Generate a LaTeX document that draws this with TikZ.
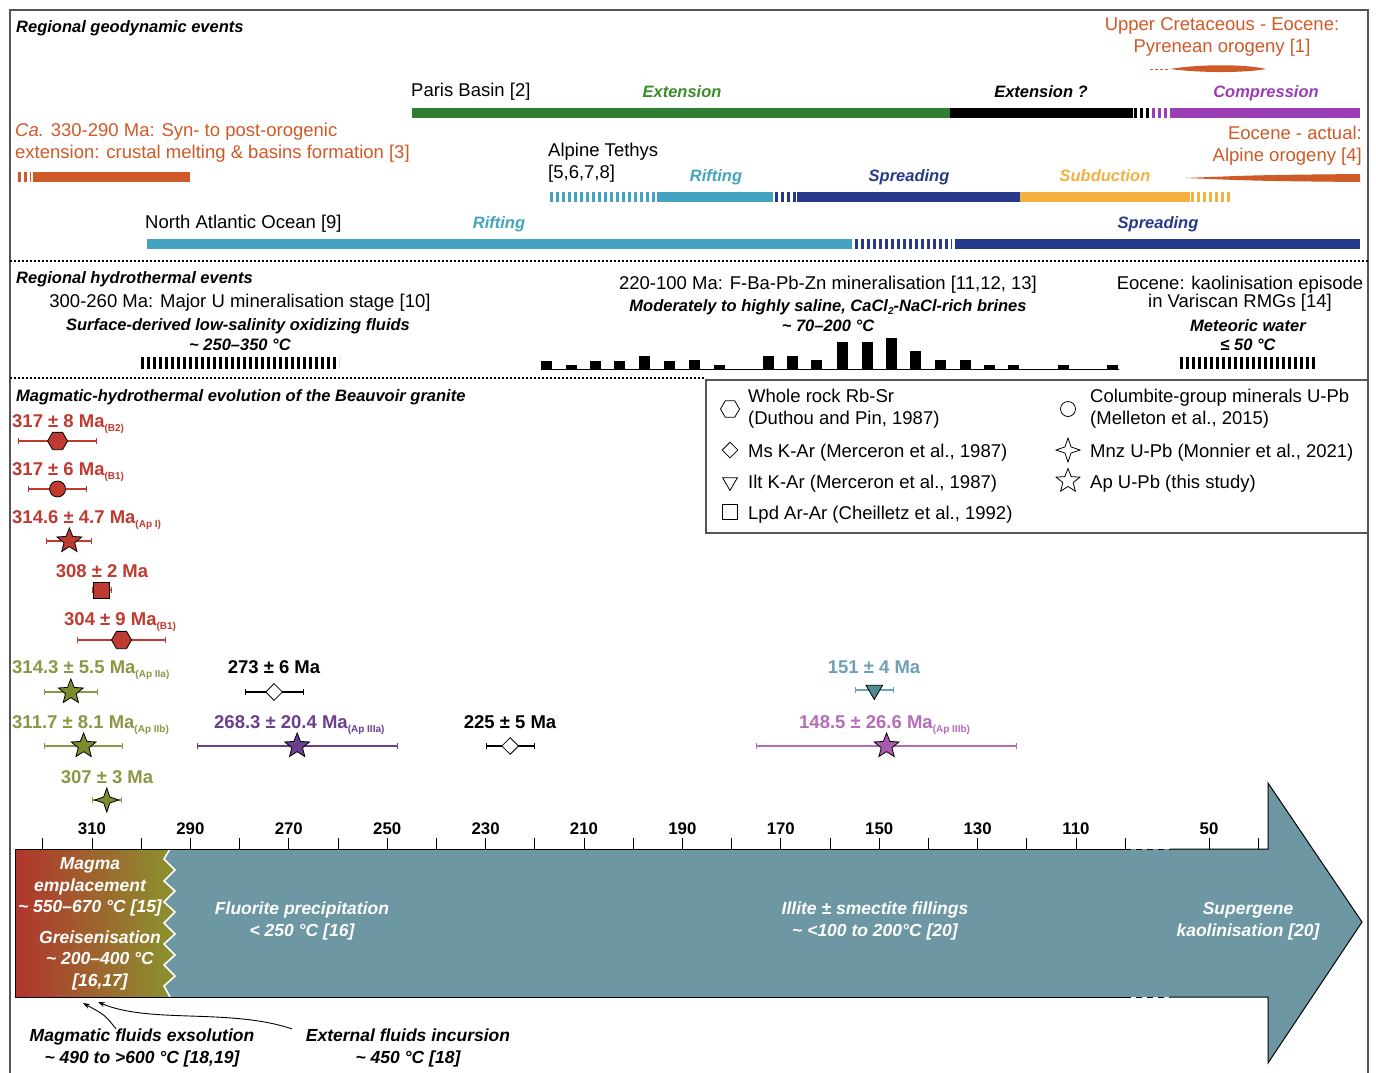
\documentclass[tikz,border=0pt]{standalone}
\usepackage{fontspec}
\setmainfont{Liberation Sans}
\usetikzlibrary{shapes.geometric,arrows.meta}

\definecolor{frameC}{HTML}{555555}
\definecolor{orangeC}{HTML}{CF5A27}
\definecolor{greenB}{HTML}{2E7D32}
\definecolor{greenT}{HTML}{3D8C2C}
\definecolor{purpleC}{HTML}{9B3DB4}
\definecolor{tealC}{HTML}{44A3C0}
\definecolor{navyC}{HTML}{273A8A}
\definecolor{yellowC}{HTML}{F5B041}
\definecolor{redD}{HTML}{BF3A30}
\definecolor{oliveT}{HTML}{8E9646}
\definecolor{oliveM}{HTML}{7B8B2D}
\definecolor{purpD}{HTML}{6A3F8E}
\definecolor{pinkD}{HTML}{B76BBB}
\definecolor{pinkM}{HTML}{A85AAE}
\definecolor{steelT}{HTML}{6E9FB5}
\definecolor{steelM}{HTML}{4F8B93}
\definecolor{arrowC}{HTML}{6D97A3}
\definecolor{gradL}{HTML}{B2352E}
\definecolor{gradR}{HTML}{8A932E}

\newcommand{\apx}{\textasciitilde}
\newcommand{\subtag}[1]{\raisebox{-4pt}{\fontsize{10}{10}\selectfont #1}}

\tikzset{
  declare function={ax(\a)=92+(310-\a)*4.92;},
  txt/.style={font=\fontsize{18.5}{22}\selectfont, inner sep=0pt},
  lab/.style={font=\fontsize{16.5}{20}\selectfont\bfseries\itshape, inner sep=0pt},
  agelab/.style={font=\fontsize{18.5}{22}\selectfont\bfseries, inner sep=0pt},
  wlab/.style={font=\fontsize{17.5}{21.5}\selectfont\bfseries\itshape, inner sep=0pt, align=center},
  axlab/.style={font=\fontsize{16.8}{20}\selectfont\bfseries, inner sep=0pt, anchor=base},
  band/.style={line width=10pt},
  bandd/.style={line width=10pt, dash pattern=on 3pt off 3pt},
  hatchbar/.style={line width=12pt, dash pattern=on 3pt off 3pt},
  errbar/.style={line width=1.1pt, {Bar[width=6pt,line width=1pt]}-{Bar[width=6pt,line width=1pt]}},
  mk/.style={draw=black, line width=0.8pt, inner sep=0pt},
  mhex/.style={mk, regular polygon, regular polygon sides=6, minimum size=20pt},
  mcirc/.style={mk, circle, minimum size=16pt},
  mdiam/.style={mk, diamond, minimum size=17pt},
  mtri/.style={mk, regular polygon, regular polygon sides=3, shape border rotate=180, minimum size=19pt},
  msq/.style={mk, rectangle, minimum size=16pt},
  mstar/.style={mk, star, star points=5, star point ratio=2.3, minimum size=26pt},
  mstarf/.style={mk, star, star points=4, star point ratio=2.8, minimum size=24pt},
  fluidarr/.style={line width=0.9pt, -{Stealth[length=7pt,width=5pt]}},
}

\begin{document}
\begin{tikzpicture}[x=1pt, y=-1pt]
  \useasboundingbox (0,0) rectangle (1376,1072);
  \fill[white] (0,0) rectangle (1376,1072);
  \draw[frameC, line width=1.5pt] (10,1074) -- (10,10) -- (1368,10) -- (1368,1074);

  % regional geodynamic events
  \node[lab, anchor=base west] (geoT) at (16,32) {Regional geodynamic events};

  \node[txt, orangeC, align=center] (pyrT) at (1222,37) {Upper Cretaceous - Eocene:\\Pyrenean orogeny [1]};
  \draw[orangeC, line width=1pt, dash pattern=on 3pt off 2pt] (1150,69) -- (1170,69);
  \fill[orangeC] (1170,69) .. controls (1200,64) and (1245,64) .. (1266,69) .. controls (1245,73) and (1200,73) .. (1170,69) -- cycle;

  \node[txt, anchor=base west] (parT) at (411,96.5) {Paris Basin [2]};
  \node[lab, greenT, anchor=base] (parE) at (682,97) {Extension};
  \node[lab, anchor=base] (parX) at (1041,97) {Extension ?};
  \node[lab, purpleC, anchor=base] (parC) at (1266,97) {Compression};
  \draw[band, greenB] (412,113) -- (950,113);
  \draw[band, black] (950,113) -- (1133,113);
  \draw[bandd, black] (1134,113) -- (1151,113);
  \draw[bandd, purpleC] (1152,113) -- (1169,113);
  \draw[band, purpleC] (1170,113) -- (1360,113);

  \node[txt, orangeC, align=left, anchor=west] (varT) at (15,143) {\textit{Ca.} 330-290 Ma: Syn- to post-orogenic\\extension: crustal melting \& basins formation [3]};
  \draw[bandd, orangeC] (18,177) -- (31,177);
  \draw[band, orangeC] (33,177) -- (190,177);

  \node[txt, align=left, anchor=west] (tetT) at (548,163) {Alpine Tethys\\{[5,6,7,8]}};
  \node[lab, tealC, anchor=base] (tetR) at (716,181) {Rifting};
  \node[lab, navyC, anchor=base] (tetS) at (909,181) {Spreading};
  \node[lab, yellowC, anchor=base] (tetU) at (1105,181) {Subduction};
  \draw[bandd, tealC] (550,197) -- (655,197);
  \draw[band, tealC] (657,197) -- (773,197);
  \draw[bandd, navyC] (775,197) -- (796,197);
  \draw[band, navyC] (797,197) -- (1020,197);
  \draw[band, yellowC] (1020,197) -- (1190,197);
  \draw[bandd, yellowC] (1191,197) -- (1230,197);

  \node[txt, orangeC, align=right, anchor=east] (alpT) at (1362,146) {Eocene - actual:\\Alpine orogeny [4]};
  \fill[orangeC] (1185,178) .. controls (1260,175) .. (1360,174) -- (1360,182) .. controls (1260,181) .. (1185,178) -- cycle;

  \node[txt, anchor=base west] (natT) at (145,228.5) {North Atlantic Ocean [9]};
  \node[lab, tealC, anchor=base] (natR) at (499,228) {Rifting};
  \node[lab, navyC, anchor=base] (natS) at (1158,228) {Spreading};
  \draw[band, tealC] (147,244) -- (852,244);
  \draw[bandd, navyC] (855,244) -- (952,244);
  \draw[band, navyC] (955,244) -- (1360,244);

  \draw[line width=1.2pt, dash pattern=on 2pt off 2pt] (10,261) -- (1368,261);

  % regional hydrothermal events
  \node[lab, anchor=base west] (hydT) at (16,283) {Regional hydrothermal events};

  \node[txt, anchor=base] (uT) at (240,307.5) {300-260 Ma: Major U mineralisation stage [10]};
  \node[lab, anchor=base] (uF) at (238,330) {Surface-derived low-salinity oxidizing fluids};
  \node[lab, anchor=base] (uC) at (240,350) {\apx{} 250–350 °C};
  \draw[hatchbar] (141,363) -- (339,363);

  \node[txt, anchor=base] (fT) at (828,289.5) {220-100 Ma: F-Ba-Pb-Zn mineralisation [11,12, 13]};
  \node[lab, anchor=base] (fF) at (828,311) {Moderately to highly saline, CaCl\raisebox{-3pt}{\fontsize{10}{10}\selectfont 2}-NaCl-rich brines};
  \node[lab, anchor=base] (fC) at (828,331) {\apx{} 70–200 °C};
  \draw[line width=1pt] (541,369) -- (1119,369);
  \foreach \x/\h in {541/8, 566/4, 590/8, 614/8, 639/13, 664/8, 689/9, 714/4, 763/13, 787/13, 811/9,
                     837/27, 862/27, 886/31, 910/18, 935/9, 960/9, 984/4, 1008/4, 1058/4, 1107/4}
    \fill (\x,369) rectangle ++(11,-\h);

  \node[txt, anchor=base] (kT1) at (1240,289.5) {Eocene: kaolinisation episode};
  \node[txt, anchor=base] (kT2) at (1240,307.5) {in Variscan RMGs [14]};
  \node[lab, anchor=base] (kF) at (1248,331) {Meteoric water};
  \node[lab, anchor=base] (kC) at (1248,350) {≤ 50 °C};
  \draw[hatchbar] (1180,363) -- (1317,363);

  \draw[line width=1.2pt, dash pattern=on 2pt off 2pt] (10,378) -- (706,378);

  % legend
  \draw[frameC, line width=1.3pt] (706,380) rectangle (1368,533);
  \node[mhex, minimum size=19pt] (l1) at (730,409) {};
  \node[mdiam, minimum size=16pt] (l2) at (730,450) {};
  \node[mtri, minimum size=17pt] (l3) at (730,482) {};
  \node[msq, minimum size=15pt] (l4) at (730,512) {};
  \node[mcirc, minimum size=15pt] (l5) at (1068,409) {};
  \node[mstarf, minimum size=24pt] (l6) at (1068,450) {};
  \node[mstar, minimum size=25pt] (l7) at (1068,481) {};
  \node[txt, align=left, anchor=west] (l1t) at (748,409) {Whole rock Rb-Sr\\(Duthou and Pin, 1987)};
  \node[txt, anchor=base west] (l2t) at (748,457.5) {Ms K-Ar (Merceron et al., 1987)};
  \node[txt, anchor=base west] (l3t) at (748,488) {Ilt K-Ar (Merceron et al., 1987)};
  \node[txt, anchor=base west] (l4t) at (748,519) {Lpd Ar-Ar (Cheilletz et al., 1992)};
  \node[txt, align=left, anchor=west] (l5t) at (1090,409) {Columbite-group minerals U-Pb\\(Melleton et al., 2015)};
  \node[txt, anchor=base west] (l6t) at (1090,457.5) {Mnz U-Pb (Monnier et al., 2021)};
  \node[txt, anchor=base west] (l7t) at (1090,488) {Ap U-Pb (this study)};

  % magmatic-hydrothermal evolution
  \node[lab, anchor=base west] (bvT) at (16,401) {Magmatic-hydrothermal evolution of the Beauvoir granite};

  \foreach \age/\err/\y/\shp/\bc/\fc [count=\i] in {
      317/8/441/mhex/redD/redD, 317/6/489/mcirc/redD/redD, 314.6/4.7/541/mstar/redD/redD,
      308/2/590/msq/redD/redD, 304/9/640/mhex/redD/redD,
      314.3/5.5/692/mstar/oliveT/oliveM, 273/6/692/mdiam/black/white,
      311.7/8.1/746/mstar/oliveT/oliveM, 268.3/20.4/746/mstar/purpD/purpD,
      225/5/746/mdiam/black/white, 307/3/800/mstarf/oliveT/oliveM,
      151/4/690/mtri/steelT/steelM, 148.5/26.6/746/mstar/pinkD/pinkM} {
    \draw[errbar, \bc] ({ax(\age+\err)},\y) -- ({ax(\age-\err)},\y);
    \node[\shp, fill=\fc] (m\i) at ({ax(\age)},\y) {};
  }

  \node[agelab, redD, anchor=base west] (a1) at (12,427.5) {317 ± 8 Ma\subtag{(B2)}};
  \node[agelab, redD, anchor=base west] (a2) at (12,475.5) {317 ± 6 Ma\subtag{(B1)}};
  \node[agelab, redD, anchor=base west] (a3) at (12,523.5) {314.6 ± 4.7 Ma\subtag{(Ap I)}};
  \node[agelab, redD, anchor=base] (a4) at (102,577.5) {308 ± 2 Ma};
  \node[agelab, redD, anchor=base west] (a5) at (64,625.5) {304 ± 9 Ma\subtag{(B1)}};
  \node[agelab, oliveT, anchor=base west] (a6) at (12,673.5) {314.3 ± 5.5 Ma\subtag{(Ap IIa)}};
  \node[agelab, anchor=base] (a7) at (274,673.5) {273 ± 6 Ma};
  \node[agelab, oliveT, anchor=base west] (a8) at (12,728.5) {311.7 ± 8.1 Ma\subtag{(Ap IIb)}};
  \node[agelab, purpD, anchor=base west] (a9) at (214,728.5) {268.3 ± 20.4 Ma\subtag{(Ap IIIa)}};
  \node[agelab, anchor=base] (a10) at (510,728.5) {225 ± 5 Ma};
  \node[agelab, oliveT, anchor=base] (a11) at (107,783.5) {307 ± 3 Ma};
  \node[agelab, steelT, anchor=base] (a12) at (874,673.5) {151 ± 4 Ma};
  \node[agelab, pinkD, anchor=base west] (a13) at (799,728.5) {148.5 ± 26.6 Ma\subtag{(Ap IIIb)}};

  % time arrow
  \fill[arrowC] (15,849) -- (1268,849) -- (1268,783) -- (1362,922) -- (1268,1063) -- (1268,997) -- (15,997) -- cycle;
  \shade[left color=gradL, right color=gradR] (15,849) -- (170,849) -- (164,859) -- (175,870) -- (164,881) -- (175,891)
    -- (164,902) -- (175,912) -- (164,923) -- (175,934) -- (164,944) -- (175,955) -- (164,965) -- (175,976)
    -- (164,986) -- (170,997) -- (15,997) -- cycle;
  \draw[white, line width=1.6pt] (170,849) -- (164,859) -- (175,870) -- (164,881) -- (175,891)
    -- (164,902) -- (175,912) -- (164,923) -- (175,934) -- (164,944) -- (175,955) -- (164,965) -- (175,976)
    -- (164,986) -- (170,997);
  \draw[line width=1pt, line join=miter] (1125,849) -- (15,849) -- (15,997) -- (1125,997);
  \draw[line width=1pt, line join=miter] (1170,849) -- (1268,849) -- (1268,783) -- (1362,922) -- (1268,1063) -- (1268,997) -- (1170,997);
  \draw[line width=1pt, dash pattern=on 6pt off 5pt] (1125,849) -- (1170,849);
  \draw[line width=1pt, dash pattern=on 6pt off 5pt] (1125,997) -- (1170,997);

  \foreach \a in {320,310,...,100}
    \draw[line width=1pt] ({ax(\a)},849) -- ({ax(\a)},838);
  \foreach \a in {310,290,...,110}
    \node[axlab] (t\a) at ({ax(\a)},834) {\a};
  \draw[line width=1pt] (1209,849) -- (1209,838);
  \draw[line width=1pt] (1258,849) -- (1258,838);
  \node[axlab] (t50) at (1209,834) {50};

  \node[wlab, white] (magT) at (90,887) {Magma\\emplacement\\\apx{} 550–670 °C [15]};
  \node[wlab, white] (greT) at (100,960) {Greisenisation\\\apx{} 200–400 °C\\{[16,17]}};
  \node[wlab, white] (fluT) at (302,921) {Fluorite precipitation\\< 250 °C [16]};
  \node[wlab, white] (illT) at (875,921) {Illite ± smectite fillings\\\apx{} <100 to 200°C [20]};
  \node[wlab, white] (supT) at (1248,921) {Supergene\\kaolinisation [20]};

  % fluids below the arrow
  \node[wlab] (mfeT) at (142,1048) {Magmatic fluids exsolution\\\apx{} 490 to >600 °C [18,19]};
  \node[wlab] (efiT) at (408,1048) {External fluids incursion\\\apx{} 450 °C [18]};
  \coordinate (mfeTip) at (83,1003);
  \coordinate (efiTip) at (98,1002);
  \draw[fluidarr] ([xshift=-26pt]mfeT.north) .. controls (105,1015) .. (mfeTip);
  \draw[fluidarr] ([xshift=-116pt]efiT.north) .. controls (230,1008) and (150,1024) .. (efiTip);
\end{tikzpicture}
\end{document}
